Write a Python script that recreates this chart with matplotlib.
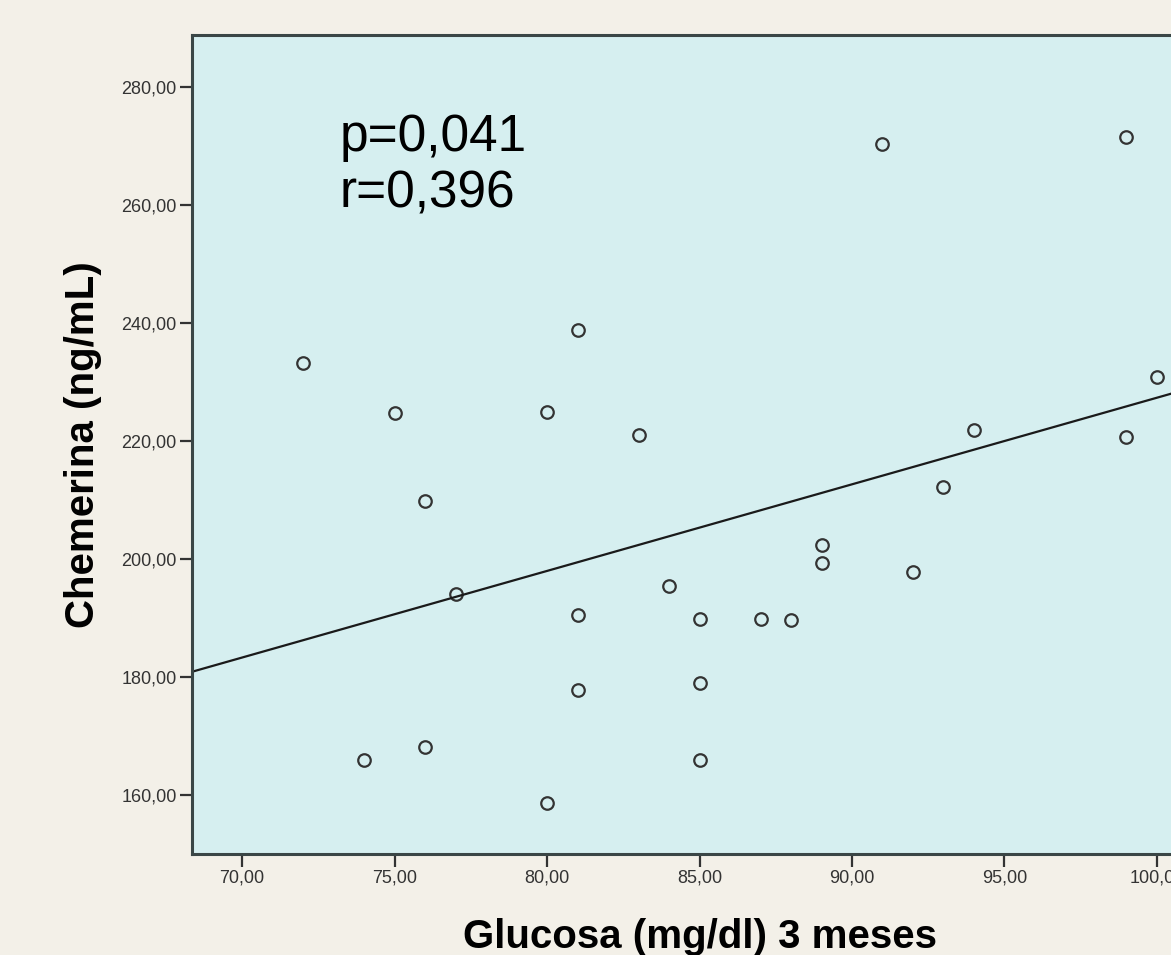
import numpy as np
import matplotlib
matplotlib.use("Agg")
import matplotlib.pyplot as plt
from matplotlib.ticker import FuncFormatter

# Data
glucosa = [72, 74, 75, 76, 76, 77, 80, 80, 81, 81, 81, 83, 84, 85, 85, 85,
           87, 88, 89, 89, 91, 92, 93, 94, 99, 99, 100]
chemerina = [233.1, 165.9, 224.7, 209.8, 168.1, 194.1, 224.9, 158.6, 238.8,
             190.5, 177.8, 221.0, 195.4, 189.8, 179.0, 165.9, 189.8, 189.7,
             202.4, 199.3, 270.3, 197.8, 212.2, 221.9, 271.5, 220.7, 230.8]
x_ticks = [70, 75, 80, 85, 90, 95, 100]
y_ticks = [160, 180, 200, 220, 240, 260, 280]
stats_text = "p=0,041\nr=0,396"

fig = plt.figure(figsize=(11.71, 9.55), dpi=100, facecolor="#f3f0e8")
ax = fig.add_axes([0.164, 0.106, 0.836, 0.857])
ax.set_facecolor("#d6eff0")

ax.plot(glucosa, chemerina, linestyle="none", marker="o", markersize=9,
        markerfacecolor="none", markeredgecolor="#333333", markeredgewidth=1.6)

# linear fit line
slope, intercept = np.polyfit(glucosa, chemerina, 1)
xlim = (68.36, 100.46)
xs = np.array(xlim)
ax.plot(xs, slope * xs + intercept, color="#1a1a1a", linewidth=1.6)

ax.set_xlim(*xlim)
ax.set_ylim(150.0, 288.7)
ax.set_xticks(x_ticks)
ax.set_yticks(y_ticks)
fmt = FuncFormatter(lambda v, p: f"{v:.2f}".replace(".", ","))
ax.xaxis.set_major_formatter(fmt)
ax.yaxis.set_major_formatter(fmt)
ax.tick_params(axis="both", labelsize=13, colors="#333333", length=9,
               width=1.6, pad=2)
for lab in ax.get_xticklabels() + ax.get_yticklabels():
    lab.set_family("Liberation Sans")

for s in ["left", "bottom", "top"]:
    ax.spines[s].set_color("#3a4646")
    ax.spines[s].set_linewidth(2.2)
ax.spines["right"].set_visible(False)

ax.set_xlabel("Glucosa (mg/dl) 3 meses", fontsize=29, fontweight="bold",
              family="Liberation Sans")
ax.set_ylabel("Chemerina (ng/mL)", fontsize=29, fontweight="bold",
              family="Liberation Sans", labelpad=14)
# original plot area continues past the cropped right edge
ax.xaxis.set_label_coords(0.519, -0.078)

ax.text(73.2, 266.6, stats_text, fontsize=37, family="Liberation Sans",
        va="center", ha="left", linespacing=1.2)

fig.savefig("out.png", dpi=100, facecolor=fig.get_facecolor())
